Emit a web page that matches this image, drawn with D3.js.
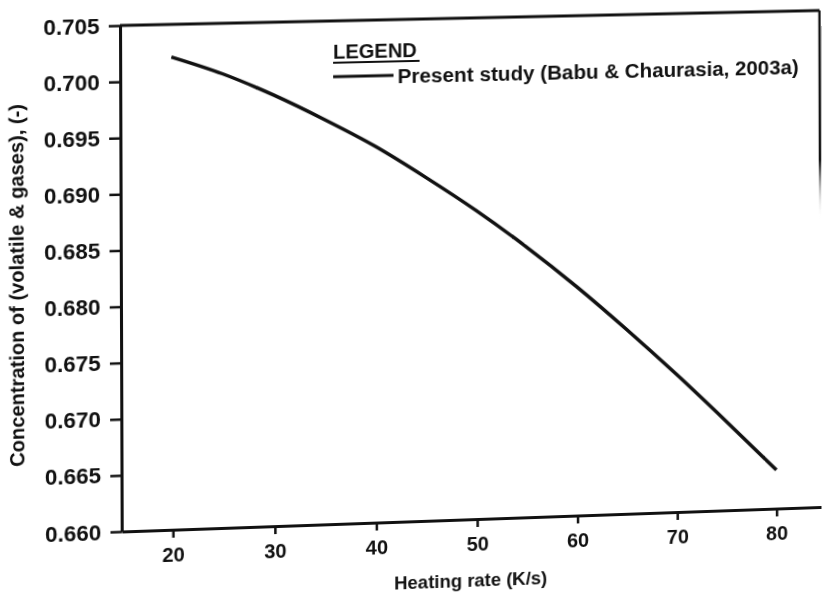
<!DOCTYPE html>
<html>
<head>
<meta charset="UTF-8">
<title>heating rate vs concentration</title>
<script src="https://cdn.jsdelivr.net/npm/d3@7"></script>
<style>
body { margin: 0; background: #fff; overflow: hidden; }
#chart { position: absolute; left: 0; top: 0; transform-origin: 0 0; overflow: visible; }
text { font-family: "Liberation Sans", Arial, sans-serif; font-weight: bold; fill: #111; }
</style>
</head>
<body>
<svg id="chart" width="822" height="640"></svg>
<script>
// data
var heatingRate = [20, 25, 30, 35, 40, 45, 50, 55, 60, 65, 70, 75, 80];
var concentration = [0.7021, 0.7005, 0.6985, 0.6962, 0.6937, 0.6908, 0.6877, 0.6843, 0.6806, 0.6766, 0.6724, 0.6680, 0.6635];
var xTicks = [20, 30, 40, 50, 60, 70, 80];
var yTicks = [0.660, 0.665, 0.670, 0.675, 0.680, 0.685, 0.690, 0.695, 0.700, 0.705];
var xDomain = [15, 84.5];
var yDomain = [0.660, 0.705];
var seriesName = "Present study (Babu & Chaurasia, 2003a)";

var margin = {left: 121, top: 26};
var width = 699, height = 505;

var svg = d3.select("#chart");
var g = svg.append("g").attr("transform", "translate(" + margin.left + "," + margin.top + ")");

var x = d3.scaleLinear().domain(xDomain).range([0, width]);
var y = d3.scaleLinear().domain(yDomain).range([height, 0]);

var xAxis = g.append("g")
	.attr("transform", "translate(0," + height + ")")
	.call(d3.axisBottom(x).tickValues(xTicks).tickSize(8).tickSizeOuter(0).tickPadding(10));
var yAxis = g.append("g")
	.call(d3.axisLeft(y).tickValues(yTicks).tickFormat(d3.format(".3f")).tickSize(11).tickSizeOuter(0).tickPadding(9));

xAxis.selectAll("text").style("font-size", "20px");
yAxis.selectAll("text").style("font-size", "22px");
g.selectAll(".domain").attr("stroke", "#111").attr("stroke-width", 3);
g.selectAll(".tick line").attr("stroke", "#111").attr("stroke-width", 2.5);

// the scanned right edge fades out further down
var grad = svg.append("defs").append("linearGradient")
	.attr("id", "fade").attr("gradientUnits", "userSpaceOnUse")
	.attr("x1", 0).attr("x2", 0).attr("y1", y.range()[1]).attr("y2", y.range()[0]);
grad.append("stop").attr("offset", 0).attr("stop-color", "#111");
grad.append("stop").attr("offset", 0.3).attr("stop-color", "#111");
grad.append("stop").attr("offset", 0.42).attr("stop-color", "#fff").attr("stop-opacity", 0);
grad.append("stop").attr("offset", 1).attr("stop-color", "#fff").attr("stop-opacity", 0);

// top and right edge of the box
g.append("line")
	.attr("x1", x.range()[0]).attr("x2", x.range()[1])
	.attr("y1", y.range()[1]).attr("y2", y.range()[1])
	.attr("stroke", "#111").attr("stroke-width", 3);
g.append("line")
	.attr("x1", x.range()[1]).attr("x2", x.range()[1] + 0.01)
	.attr("y1", y.range()[1]).attr("y2", y.range()[0])
	.attr("stroke", "url(#fade)").attr("stroke-width", 2.5);

var line = d3.line()
	.x(function(d, i) { return x(heatingRate[i]); })
	.y(function(d) { return y(d); })
	.curve(d3.curveMonotoneX);

g.append("path")
	.datum(concentration)
	.attr("fill", "none")
	.attr("stroke", "#111")
	.attr("stroke-width", 3.5)
	.attr("d", line);

// legend
var legend = g.append("g").attr("transform", "translate(210,38)");
legend.append("text").attr("x", 0).attr("y", 0).style("font-size", "20px").text("LEGEND");
legend.append("line").attr("x1", 0).attr("x2", 86).attr("y1", 4).attr("y2", 4)
	.attr("stroke", "#111").attr("stroke-width", 2);
legend.append("line").attr("x1", 0).attr("x2", 60).attr("y1", 18).attr("y2", 18)
	.attr("stroke", "#111").attr("stroke-width", 3);
legend.append("text").attr("x", 64).attr("y", 26).style("font-size", "20.7px").text(seriesName);

// axis titles
svg.append("text")
	.attr("transform", "translate(26," + (margin.top + height / 2 + 4) + ") rotate(-90)")
	.attr("text-anchor", "middle")
	.style("font-size", "20px")
	.text("Concentration of (volatile & gases), (-)");
svg.append("text")
	.attr("x", margin.left + width / 2 - 4)
	.attr("y", margin.top + height + 68)
	.attr("text-anchor", "middle")
	.style("font-size", "18.5px")
	.text("Heating rate (K/s)");

// the scan is a bit skewed, so warp the whole drawing onto the scanned box corners
var quad = [[120, 25.5], [819.5, 10.5], [821, 507], [121.7, 531.5]];
function squareToQuad(p) {
	var dx1 = p[1][0] - p[2][0], dx2 = p[3][0] - p[2][0], dx3 = p[0][0] - p[1][0] + p[2][0] - p[3][0];
	var dy1 = p[1][1] - p[2][1], dy2 = p[3][1] - p[2][1], dy3 = p[0][1] - p[1][1] + p[2][1] - p[3][1];
	var den = dx1 * dy2 - dx2 * dy1;
	var gg = (dx3 * dy2 - dx2 * dy3) / den, hh = (dx1 * dy3 - dx3 * dy1) / den;
	return [
		[p[1][0] - p[0][0] + gg * p[1][0], p[3][0] - p[0][0] + hh * p[3][0], p[0][0]],
		[p[1][1] - p[0][1] + gg * p[1][1], p[3][1] - p[0][1] + hh * p[3][1], p[0][1]],
		[gg, hh, 1]
	];
}
var M = squareToQuad(quad);
var N = M.map(function(r) {
	return [r[0] / width, r[1] / height, r[2] - r[0] * margin.left / width - r[1] * margin.top / height];
});
document.getElementById("chart").style.transform = "matrix3d(" + [
	N[0][0], N[1][0], 0, N[2][0],
	N[0][1], N[1][1], 0, N[2][1],
	0, 0, 1, 0,
	N[0][2], N[1][2], 0, N[2][2]
].join(",") + ")";
</script>
</body>
</html>
